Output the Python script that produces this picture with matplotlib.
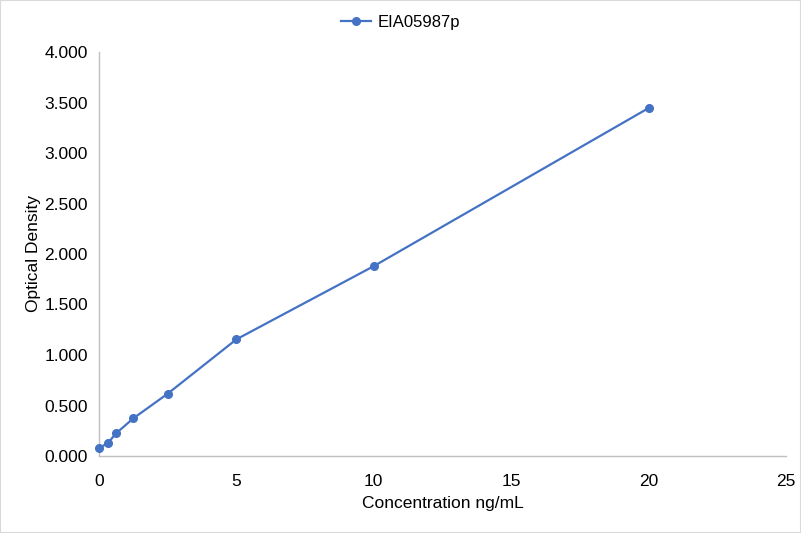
import matplotlib
matplotlib.use("Agg")
import matplotlib.pyplot as plt
from matplotlib.patches import Rectangle

plt.rcParams['font.family'] = ['Liberation Sans', 'DejaVu Sans']

conc = [0, 0.3125, 0.625, 1.25, 2.5, 5, 10, 20]
od = [0.079, 0.125, 0.225, 0.373, 0.617, 1.155, 1.880, 3.445]
series_name = "EIA05987p"
x_ticks = [0, 5, 10, 15, 20, 25]
y_ticks = [0.0, 0.5, 1.0, 1.5, 2.0, 2.5, 3.0, 3.5, 4.0]

fig = plt.figure(figsize=(8.01, 5.33), dpi=100)
ax = fig.add_axes([99/801, 77/533, (786-99)/801, (456-52)/533])

ax.plot(conc, od, color='#4472C4', linewidth=1.6, marker='o', markersize=5.5,
        label=series_name, clip_on=False, zorder=3)

ax.set_xlim(0, 25)
ax.set_ylim(0, 4)
ax.set_xticks(x_ticks)
ax.set_yticks(y_ticks)
ax.set_yticklabels([f"{v:.3f}" for v in y_ticks])
ax.tick_params(axis='both', length=0, labelsize=12.5, colors='black')
ax.tick_params(axis='x', pad=13)
ax.tick_params(axis='y', pad=8)
for s in ['top', 'right']:
    ax.spines[s].set_visible(False)
for s in ['left', 'bottom']:
    ax.spines[s].set_color('#BFBFBF')
    ax.spines[s].set_linewidth(1)

ax.set_xlabel("Concentration ng/mL", fontsize=12.5, color='black', labelpad=5)
ax.set_ylabel("Optical Density", fontsize=12.5, color='black', labelpad=2)

leg = fig.legend(loc='center', bbox_to_anchor=(0.5, 1 - 22/533), frameon=False,
                 fontsize=12, handlelength=1.8, handletextpad=0.4)
for t in leg.get_texts():
    t.set_color('black')

fig.patches.append(Rectangle((0, 0), 1, 1, transform=fig.transFigure, fill=False,
                             edgecolor='#D9D9D9', linewidth=1.5))

fig.savefig("out.png", dpi=100)
